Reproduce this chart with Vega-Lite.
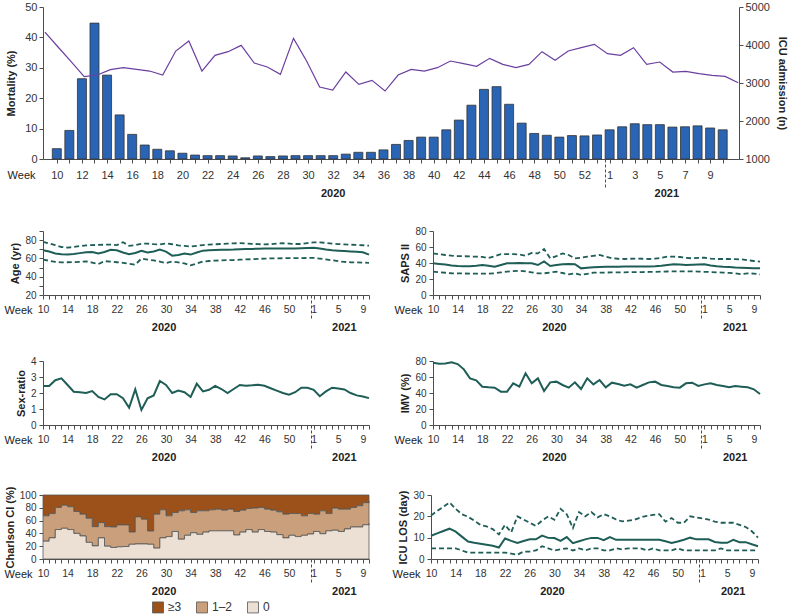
{
"$schema": "https://vega.github.io/schema/vega-lite/v6.json",
"padding": {"left": 4, "top": 1, "right": 2, "bottom": 2},
"background": "white",
"config": {
  "font": "Liberation Sans",
  "view": {"stroke": null},
  "axis": {"grid": false, "domainColor": "#4d4d4d", "tickColor": "#4d4d4d", "labelColor": "#333333", "titleColor": "#222222", "titleFontWeight": "bold", "titleFontSize": 11, "labelFontSize": 10.5, "tickSize": 4},
  "axisY": {"labelPadding": 3, "titlePadding": 4, "labelFontSize": 10},
  "line": {"color": "#1f5d57"}
},
"datasets": {"wk": [
{"i":0,"mort":3.4,"icu":4341,"age":69,"ageQ1":58.7,"ageQ3":78.2,"saps":39.6,"sapsQ1":29.2,"sapsQ3":52,"sex":2.44,"imv":77.9,"los":10.9,"losQ1":5,"losQ3":20.4,"c0":27.9,"c12":39.5,"c3":32.6},
{"i":1,"mort":9.4,"icu":3947,"age":67.5,"ageQ1":57.5,"ageQ3":76.5,"saps":38.8,"sapsQ1":28.5,"sapsQ3":51,"sex":2.44,"imv":76.7,"los":12,"losQ1":5,"losQ3":22.5,"c0":33,"c12":38,"c3":29},
{"i":2,"mort":26.4,"icu":3561,"age":65.5,"ageQ1":56.2,"ageQ3":74.5,"saps":38,"sapsQ1":27.8,"sapsQ3":50,"sex":2.8,"imv":77,"los":13.1,"losQ1":5,"losQ3":24.5,"c0":46,"c12":34.5,"c3":19.5},
{"i":3,"mort":44.7,"icu":3166,"age":64.5,"ageQ1":55.6,"ageQ3":72.5,"saps":37,"sapsQ1":27.2,"sapsQ3":49.2,"sex":2.92,"imv":78.3,"los":14.2,"losQ1":5,"losQ3":26.5,"c0":48,"c12":36,"c3":16},
{"i":4,"mort":27.6,"icu":3210,"age":64.2,"ageQ1":55.8,"ageQ3":71.8,"saps":36.3,"sapsQ1":27,"sapsQ3":48.7,"sex":2.5,"imv":76.2,"los":12.8,"losQ1":5,"losQ3":23.5,"c0":46,"c12":35.6,"c3":18.4},
{"i":5,"mort":14.5,"icu":3350,"age":64.8,"ageQ1":56,"ageQ3":72.5,"saps":36,"sapsQ1":26.9,"sapsQ3":48.5,"sex":2.08,"imv":69.6,"los":10.5,"losQ1":4,"losQ3":21,"c0":40,"c12":34.2,"c3":25.8},
{"i":6,"mort":8.1,"icu":3403,"age":65.8,"ageQ1":56.3,"ageQ3":73.5,"saps":35.8,"sapsQ1":26.8,"sapsQ3":48.2,"sex":2.05,"imv":58.3,"los":8.2,"losQ1":3,"losQ3":19.8,"c0":36,"c12":34,"c3":30},
{"i":7,"mort":4.6,"icu":3359,"age":66.8,"ageQ1":56.8,"ageQ3":74.3,"saps":36.5,"sapsQ1":26.8,"sapsQ3":47.9,"sex":2.0,"imv":55.8,"los":7.6,"losQ1":3,"losQ3":18,"c0":26,"c12":37.7,"c3":36.3},
{"i":8,"mort":3.2,"icu":3315,"age":67,"ageQ1":55.5,"ageQ3":74.6,"saps":37.5,"sapsQ1":26.8,"sapsQ3":47.6,"sex":2.12,"imv":47.9,"los":7.2,"losQ1":3,"losQ3":16,"c0":20.5,"c12":30,"c3":49.5},
{"i":9,"mort":2.7,"icu":3210,"age":65.3,"ageQ1":53.9,"ageQ3":74.8,"saps":36.5,"sapsQ1":26.8,"sapsQ3":46.2,"sex":1.75,"imv":47.1,"los":6.7,"losQ1":3,"losQ3":15.3,"c0":33,"c12":23.8,"c3":43.2},
{"i":10,"mort":1.9,"icu":3841,"age":67,"ageQ1":57,"ageQ3":75,"saps":35.4,"sapsQ1":27.2,"sapsQ3":48.5,"sex":1.6,"imv":46.7,"los":6.2,"losQ1":3,"losQ3":14,"c0":20,"c12":30.5,"c3":49.5},
{"i":11,"mort":1.3,"icu":4105,"age":69.5,"ageQ1":56.5,"ageQ3":75.2,"saps":37.5,"sapsQ1":28.2,"sapsQ3":51,"sex":1.92,"imv":41.7,"los":5.4,"losQ1":3,"losQ3":11.5,"c0":18,"c12":32,"c3":50},
{"i":12,"mort":1.1,"icu":3315,"age":69,"ageQ1":55.8,"ageQ3":74.5,"saps":39.6,"sapsQ1":29.2,"sapsQ3":51.2,"sex":1.92,"imv":41.7,"los":9.6,"losQ1":3,"losQ3":16,"c0":19,"c12":34.2,"c3":46.8},
{"i":13,"mort":1.1,"icu":3727,"age":66.5,"ageQ1":55.2,"ageQ3":77.8,"saps":39.8,"sapsQ1":29.8,"sapsQ3":51,"sex":1.67,"imv":52.1,"los":8.5,"losQ1":2.5,"losQ3":12.5,"c0":19.5,"c12":33.7,"c3":46.8},
{"i":14,"mort":1.0,"icu":3824,"age":64.6,"ageQ1":54.2,"ageQ3":73.8,"saps":40,"sapsQ1":30.2,"sapsQ3":50.5,"sex":1.08,"imv":47.9,"los":7.5,"losQ1":2,"losQ3":20,"c0":23,"c12":19.1,"c3":57.9},
{"i":15,"mort":0.4,"icu":3991,"age":66,"ageQ1":53.2,"ageQ3":74.5,"saps":39.8,"sapsQ1":29.6,"sapsQ3":49.2,"sex":2.23,"imv":64.6,"los":8.4,"losQ1":3.5,"losQ3":18.5,"c0":23.5,"c12":42.3,"c3":34.2},
{"i":16,"mort":1.0,"icu":3526,"age":68.3,"ageQ1":59.8,"ageQ3":76,"saps":39.6,"sapsQ1":28.3,"sapsQ3":52.5,"sex":0.94,"imv":52.1,"los":9.2,"losQ1":3.5,"losQ3":17,"c0":23.5,"c12":38.6,"c3":37.9},
{"i":17,"mort":0.8,"icu":3421,"age":66.5,"ageQ1":58.8,"ageQ3":76.2,"saps":37.5,"sapsQ1":27.1,"sapsQ3":52,"sex":1.67,"imv":58.3,"los":9.2,"losQ1":4,"losQ3":15.5,"c0":23,"c12":20.7,"c3":56.3},
{"i":18,"mort":1.0,"icu":3228,"age":67.5,"ageQ1":57.8,"ageQ3":75.6,"saps":42,"sapsQ1":27.1,"sapsQ3":57.5,"sex":1.85,"imv":42.5,"los":11,"losQ1":6,"losQ3":18,"c0":17,"c12":53,"c3":30},
{"i":19,"mort":1.1,"icu":4175,"age":69.7,"ageQ1":56.5,"ageQ3":75.3,"saps":36.3,"sapsQ1":28.2,"sapsQ3":45.8,"sex":2.75,"imv":53.3,"los":9.9,"losQ1":5,"losQ3":20,"c0":33,"c12":43.8,"c3":23.2},
{"i":20,"mort":1.1,"icu":3578,"age":67.5,"ageQ1":55,"ageQ3":76.4,"saps":37.5,"sapsQ1":29.2,"sapsQ3":48.5,"sex":2.5,"imv":54.2,"los":9.8,"losQ1":4,"losQ3":18.4,"c0":35,"c12":32.4,"c3":32.6},
{"i":21,"mort":1.1,"icu":2894,"age":63,"ageQ1":56.6,"ageQ3":75.5,"saps":38.5,"sapsQ1":27.5,"sapsQ3":52,"sex":2.0,"imv":50,"los":8.5,"losQ1":4.5,"losQ3":23.5,"c0":43,"c12":29.6,"c3":27.4},
{"i":22,"mort":1.1,"icu":2815,"age":63.8,"ageQ1":55.6,"ageQ3":74.2,"saps":38.8,"sapsQ1":25.8,"sapsQ3":50,"sex":2.15,"imv":46.7,"los":10.3,"losQ1":5,"losQ3":21,"c0":31,"c12":44.3,"c3":24.7},
{"i":23,"mort":1.6,"icu":3289,"age":65.3,"ageQ1":54.6,"ageQ3":73.8,"saps":38.5,"sapsQ1":27.1,"sapsQ3":45.8,"sex":2.05,"imv":53.3,"los":7.4,"losQ1":4,"losQ3":14.5,"c0":37,"c12":39.8,"c3":23.2},
{"i":24,"mort":2.2,"icu":2964,"age":64.2,"ageQ1":52.4,"ageQ3":73,"saps":33.3,"sapsQ1":25,"sapsQ3":46.5,"sex":1.75,"imv":45,"los":8.3,"losQ1":5,"losQ3":22,"c0":41,"c12":31.6,"c3":27.4},
{"i":25,"mort":2.2,"icu":3070,"age":66.5,"ageQ1":54.5,"ageQ3":73.8,"saps":34.2,"sapsQ1":26.5,"sapsQ3":47.9,"sex":2.58,"imv":58.3,"los":9.2,"losQ1":4,"losQ3":20,"c0":38.5,"c12":36.8,"c3":24.7},
{"i":26,"mort":3.0,"icu":2789,"age":68.5,"ageQ1":56.6,"ageQ3":74.6,"saps":34.6,"sapsQ1":27.9,"sapsQ3":49,"sex":2.1,"imv":50.8,"los":9.9,"losQ1":5,"losQ3":22,"c0":42,"c12":33.3,"c3":24.7},
{"i":27,"mort":4.8,"icu":3210,"age":69,"ageQ1":57.2,"ageQ3":75.2,"saps":35,"sapsQ1":28,"sapsQ3":50,"sex":2.2,"imv":56.2,"los":9.9,"losQ1":5,"losQ3":19.5,"c0":44,"c12":32.8,"c3":23.2},
{"i":28,"mort":6.1,"icu":3359,"age":69.2,"ageQ1":57.6,"ageQ3":75.5,"saps":35.2,"sapsQ1":28.1,"sapsQ3":48,"sex":2.45,"imv":47.1,"los":8.8,"losQ1":4,"losQ3":21,"c0":44,"c12":33.9,"c3":22.1},
{"i":29,"mort":7.2,"icu":3315,"age":69.4,"ageQ1":57.9,"ageQ3":75.8,"saps":35.4,"sapsQ1":28.2,"sapsQ3":46,"sex":2.25,"imv":52.9,"los":10.3,"losQ1":4,"losQ3":20,"c0":44,"c12":32.3,"c3":23.7},
{"i":30,"mort":7.2,"icu":3403,"age":69.6,"ageQ1":58.2,"ageQ3":76.2,"saps":35.4,"sapsQ1":28.3,"sapsQ3":45.3,"sex":2.0,"imv":51.2,"los":9,"losQ1":5,"losQ3":18.5,"c0":44,"c12":33.9,"c3":22.1},
{"i":31,"mort":9.6,"icu":3578,"age":69.7,"ageQ1":58.3,"ageQ3":76.5,"saps":35.5,"sapsQ1":28.4,"sapsQ3":45,"sex":2.25,"imv":49.2,"los":9,"losQ1":4.5,"losQ3":17.6,"c0":37.5,"c12":36.7,"c3":25.8},
{"i":32,"mort":12.8,"icu":3508,"age":70,"ageQ1":58.6,"ageQ3":76.7,"saps":35.6,"sapsQ1":28.5,"sapsQ3":45.3,"sex":2.5,"imv":50.8,"los":9,"losQ1":5,"losQ3":18,"c0":42,"c12":34.3,"c3":23.7},
{"i":33,"mort":17.7,"icu":3438,"age":70.2,"ageQ1":58.9,"ageQ3":76.4,"saps":35.6,"sapsQ1":28.6,"sapsQ3":45.6,"sex":2.45,"imv":46.7,"los":9,"losQ1":5,"losQ3":18.4,"c0":46,"c12":32.9,"c3":21.1},
{"i":34,"mort":22.9,"icu":3649,"age":70.4,"ageQ1":59.2,"ageQ3":76,"saps":35.7,"sapsQ1":28.7,"sapsQ3":45.3,"sex":2.48,"imv":50,"los":9,"losQ1":5,"losQ3":19.5,"c0":42,"c12":37.5,"c3":20.5},
{"i":35,"mort":23.8,"icu":3491,"age":70.6,"ageQ1":59.5,"ageQ3":75.6,"saps":35.7,"sapsQ1":28.8,"sapsQ3":45,"sex":2.52,"imv":53.3,"los":9,"losQ1":4,"losQ3":20.2,"c0":46,"c12":34.5,"c3":19.5},
{"i":36,"mort":18.0,"icu":3403,"age":70.8,"ageQ1":59.8,"ageQ3":75.3,"saps":35.8,"sapsQ1":29,"sapsQ3":45.4,"sex":2.45,"imv":54.2,"los":9,"losQ1":5,"losQ3":20.7,"c0":43,"c12":34.9,"c3":22.1},
{"i":37,"mort":11.8,"icu":3491,"age":70.8,"ageQ1":60,"ageQ3":75.6,"saps":36.5,"sapsQ1":29.2,"sapsQ3":46.5,"sex":2.3,"imv":50,"los":9,"losQ1":4,"losQ3":21,"c0":42,"c12":34.3,"c3":23.7},
{"i":38,"mort":8.4,"icu":3824,"age":70.8,"ageQ1":60.1,"ageQ3":76.2,"saps":37.5,"sapsQ1":29.4,"sapsQ3":47.9,"sex":2.15,"imv":48.75,"los":8.3,"losQ1":4,"losQ3":17.5,"c0":38,"c12":35.7,"c3":26.3},
{"i":39,"mort":7.8,"icu":3596,"age":70.8,"ageQ1":60.2,"ageQ3":76.6,"saps":38.3,"sapsQ1":29.5,"sapsQ3":47.9,"sex":2.0,"imv":47.1,"los":7.5,"losQ1":4,"losQ3":19.2,"c0":33,"c12":37,"c3":30},
{"i":40,"mort":7.2,"icu":3841,"age":70.8,"ageQ1":60.3,"ageQ3":76.3,"saps":38,"sapsQ1":29.6,"sapsQ3":47.5,"sex":1.9,"imv":46.7,"los":8.2,"losQ1":5,"losQ3":17,"c0":37,"c12":34,"c3":29},
{"i":41,"mort":7.7,"icu":3929,"age":70.8,"ageQ1":60.4,"ageQ3":75.8,"saps":37.5,"sapsQ1":29.6,"sapsQ3":46.5,"sex":2.05,"imv":52.1,"los":9,"losQ1":4,"losQ3":17,"c0":35,"c12":36,"c3":29},
{"i":42,"mort":7.6,"icu":4017,"age":71,"ageQ1":60.4,"ageQ3":75.8,"saps":37.8,"sapsQ1":29.6,"sapsQ3":45.8,"sex":2.33,"imv":52.9,"los":10,"losQ1":4,"losQ3":20,"c0":37,"c12":30.4,"c3":32.6},
{"i":43,"mort":7.9,"icu":3771,"age":71.3,"ageQ1":60.5,"ageQ3":76.8,"saps":38.2,"sapsQ1":29.3,"sapsQ3":46.5,"sex":2.33,"imv":48.75,"los":9.2,"losQ1":4,"losQ3":19.5,"c0":39,"c12":32,"c3":29},
{"i":44,"mort":9.6,"icu":3727,"age":71.6,"ageQ1":60.5,"ageQ3":77.6,"saps":38.3,"sapsQ1":29,"sapsQ3":46.6,"sex":2.2,"imv":50.8,"los":9.2,"losQ1":4,"losQ3":19,"c0":43,"c12":27,"c3":30},
{"i":45,"mort":10.6,"icu":3929,"age":70.8,"ageQ1":59.8,"ageQ3":77.6,"saps":37,"sapsQ1":28.7,"sapsQ3":45.5,"sex":1.8,"imv":52.1,"los":9.2,"losQ1":4,"losQ3":18.5,"c0":39.5,"c12":35.8,"c3":24.7},
{"i":46,"mort":11.6,"icu":3491,"age":69.8,"ageQ1":58.9,"ageQ3":77,"saps":36,"sapsQ1":28.3,"sapsQ3":45,"sex":2.1,"imv":50,"los":8,"losQ1":4,"losQ3":17.5,"c0":44,"c12":27,"c3":29},
{"i":47,"mort":11.3,"icu":3552,"age":69,"ageQ1":58,"ageQ3":76.2,"saps":35.4,"sapsQ1":28,"sapsQ3":45,"sex":2.33,"imv":48.75,"los":7.6,"losQ1":5,"losQ3":17,"c0":45,"c12":34.5,"c3":20.5},
{"i":48,"mort":11.3,"icu":3289,"age":68.5,"ageQ1":57,"ageQ3":75.7,"saps":35,"sapsQ1":27.6,"sapsQ3":45,"sex":2.28,"imv":47.1,"los":7.6,"losQ1":4,"losQ3":17,"c0":43,"c12":34.9,"c3":22.1},
{"i":49,"mort":10.5,"icu":3307,"age":68,"ageQ1":56.2,"ageQ3":75.4,"saps":34.5,"sapsQ1":27.1,"sapsQ3":44.8,"sex":2.22,"imv":48.75,"los":9,"losQ1":4,"losQ3":17,"c0":47,"c12":30.9,"c3":22.1},
{"i":50,"mort":10.6,"icu":3245,"age":67.6,"ageQ1":55.8,"ageQ3":75,"saps":34.2,"sapsQ1":26,"sapsQ3":44.5,"sex":2.0,"imv":47.9,"los":7.9,"losQ1":4,"losQ3":16,"c0":50,"c12":30.5,"c3":19.5},
{"i":51,"mort":10.9,"icu":3201,"age":67.2,"ageQ1":55.6,"ageQ3":74.8,"saps":33.8,"sapsQ1":27,"sapsQ3":43.5,"sex":1.85,"imv":47.1,"los":7.9,"losQ1":4,"losQ3":15,"c0":50,"c12":33.2,"c3":16.8},
{"i":52,"mort":10.2,"icu":3175,"age":66.8,"ageQ1":55.4,"ageQ3":74.4,"saps":33.4,"sapsQ1":26.8,"sapsQ3":42.5,"sex":1.78,"imv":44.6,"los":6.9,"losQ1":4,"losQ3":13,"c0":53.5,"c12":34.5,"c3":12},
{"i":53,"mort":9.6,"icu":3008,"age":64.2,"ageQ1":55.2,"ageQ3":74,"saps":33.3,"sapsQ1":25.8,"sapsQ3":41.7,"sex":1.68,"imv":38.75,"los":6,"losQ1":4,"losQ3":10,"c0":55.5,"c12":34.5,"c3":10}
]},
"data": {"name": "wk"},
"spacing": 20,
"vconcat": [
{
  "width": 696, "height": 152,
  "layer": [
    {"mark": {"type": "bar", "width": 9, "color": "#2a64b4", "stroke": "#333333", "strokeWidth": 0.8},
     "encoding": {
       "x": {"field": "i", "type": "quantitative", "scale": {"domain": [-0.7, 53.9], "nice": false, "zero": false},
             "axis": {"orient": "bottom", "title": "Week", "titleFontWeight": "normal", "titleFontSize": 11, "titleAngle": 0, "titleAlign": "right", "titleBaseline": "middle", "titleX": -8, "titleY": 16,
                      "values": [0,1,2,3,4,5,6,7,8,9,10,11,12,13,14,15,16,17,18,19,20,21,22,23,24,25,26,27,28,29,30,31,32,33,34,35,36,37,38,39,40,41,42,43,44,45,46,47,48,49,50,51,52,53,43.6],
                      "labelExpr": "datum.value % 2 == 0 ? '' + (datum.value <= 43 ? datum.value + 10 : datum.value - 43) : ''",
                      "labelFlush": false, "labelOverlap": false, "labelFontSize": 11, "labelPadding": 6,
                      "tickSize": {"condition": {"test": "datum.value == 43.6", "value": 30}, "value": 4},
                      "tickDash": {"condition": {"test": "datum.value == 43.6", "value": [3, 2]}, "value": []}}},
       "y": {"field": "mort", "type": "quantitative", "scale": {"domain": [0, 50], "nice": false},
             "axis": {"title": "Mortality (%)", "values": [0, 10, 20, 30, 40, 50], "labelFontSize": 11, "labelPadding": 2, "titlePadding": 8}}
     }},
    {"mark": {"type": "line", "color": "#6b3fa0", "strokeWidth": 1.2},
     "encoding": {
       "x": {"field": "i", "type": "quantitative", "scale": {"domain": [-0.15, 53.06], "nice": false, "zero": false},
             "axis": {"orient": "bottom", "title": null, "values": [22.0, 47.5], "labelExpr": "datum.value < 35 ? '2020' : '2021'", "domain": false, "ticks": false, "labelFontWeight": "bold", "labelFontSize": 11, "labelPadding": 28, "labelFlush": false, "labelOverlap": false, "labelColor": "#222222"}},
       "y": {"field": "icu", "type": "quantitative", "scale": {"domain": [1000, 5000], "nice": false, "zero": false},
             "axis": {"orient": "right", "title": "ICU admission (n)", "format": "d", "values": [1000, 2000, 3000, 4000, 5000], "labelFontSize": 11, "labelPadding": 2, "titlePadding": 7}}
     }}
  ],
  "resolve": {"scale": {"x": "independent", "y": "independent"}}
},
{
  "spacing": 21,
  "hconcat": [
    {
      "width": 326, "height": 64,
      "layer": [
        {"mark": {"type": "line", "strokeWidth": 1.8, "strokeDash": [5, 3]},
         "encoding": {
           "x": {"field": "i", "type": "quantitative", "scale": {"domain": [0, 53], "nice": false, "zero": false},
                 "axis": {"orient": "bottom", "title": null, "values": [19.6, 48.9], "labelExpr": "datum.value < 35 ? '2020' : '2021'", "domain": false, "ticks": false, "labelFontWeight": "bold", "labelFontSize": 11, "labelPadding": 26, "labelFlush": false, "labelOverlap": false, "labelColor": "#222222"}},
           "y": {"field": "ageQ1", "type": "quantitative", "scale": {"domain": [20, 90], "nice": false, "zero": false},
                 "axis": {"title": "Age (yr)", "values": [20, 30, 40, 50, 60, 70, 80, 90]}}}},
        {"mark": {"type": "line", "strokeWidth": 1.8, "strokeDash": [5, 3]},
         "encoding": {
           "x": {"field": "i", "type": "quantitative", "scale": {"domain": [0, 53], "nice": false, "zero": false}, "axis": null},
           "y": {"field": "ageQ3", "type": "quantitative", "scale": {"domain": [20, 90], "nice": false, "zero": false},
                 "axis": {"title": "Age (yr)", "values": [20, 30, 40, 50, 60, 70, 80, 90]}}}},
        {"mark": {"type": "line", "strokeWidth": 2},
         "encoding": {
           "x": {"field": "i", "type": "quantitative", "scale": {"domain": [0, 53], "nice": false, "zero": false},
                 "axis": {"orient": "bottom", "title": "Week", "titleFontWeight": "normal", "titleFontSize": 11, "titleAngle": 0, "titleAlign": "right", "titleBaseline": "middle", "titleX": -11, "titleY": 15,
                          "values": [0,1,2,3,4,5,6,7,8,9,10,11,12,13,14,15,16,17,18,19,20,21,22,23,24,25,26,27,28,29,30,31,32,33,34,35,36,37,38,39,40,41,42,43,44,45,46,47,48,49,50,51,52,53,43.5],
                          "labelExpr": "datum.value % 4 == 0 ? '' + (datum.value <= 43 ? datum.value + 10 : datum.value - 43) : ''",
                          "labelFlush": false, "labelOverlap": false, "labelFontSize": 10.5, "labelPadding": 5,
                          "tickSize": {"condition": {"test": "datum.value == 43.5", "value": 25}, "value": 4},
                          "tickDash": {"condition": {"test": "datum.value == 43.5", "value": [3, 2]}, "value": []}}},
           "y": {"field": "age", "type": "quantitative", "scale": {"domain": [20, 90], "nice": false, "zero": false},
                 "axis": {"title": "Age (yr)", "values": [20, 30, 40, 50, 60, 70, 80, 90]}}}}
      ],
      "resolve": {"axis": {"x": "independent"}}
    },
    {
      "width": 327, "height": 64,
      "layer": [
        {"mark": {"type": "line", "strokeWidth": 1.8, "strokeDash": [5, 3]},
         "encoding": {
           "x": {"field": "i", "type": "quantitative", "scale": {"domain": [0, 53], "nice": false, "zero": false},
                 "axis": {"orient": "bottom", "title": null, "values": [19.6, 48.9], "labelExpr": "datum.value < 35 ? '2020' : '2021'", "domain": false, "ticks": false, "labelFontWeight": "bold", "labelFontSize": 11, "labelPadding": 26, "labelFlush": false, "labelOverlap": false, "labelColor": "#222222"}},
           "y": {"field": "sapsQ1", "type": "quantitative", "scale": {"domain": [0, 80], "nice": false},
                 "axis": {"title": "SAPS II", "values": [0, 20, 40, 60, 80]}}}},
        {"mark": {"type": "line", "strokeWidth": 1.8, "strokeDash": [5, 3]},
         "encoding": {
           "x": {"field": "i", "type": "quantitative", "scale": {"domain": [0, 53], "nice": false, "zero": false}, "axis": null},
           "y": {"field": "sapsQ3", "type": "quantitative", "scale": {"domain": [0, 80], "nice": false},
                 "axis": {"title": "SAPS II", "values": [0, 20, 40, 60, 80]}}}},
        {"mark": {"type": "line", "strokeWidth": 2},
         "encoding": {
           "x": {"field": "i", "type": "quantitative", "scale": {"domain": [0, 53], "nice": false, "zero": false},
                 "axis": {"orient": "bottom", "title": "Week", "titleFontWeight": "normal", "titleFontSize": 11, "titleAngle": 0, "titleAlign": "right", "titleBaseline": "middle", "titleX": -11, "titleY": 15,
                          "values": [0,1,2,3,4,5,6,7,8,9,10,11,12,13,14,15,16,17,18,19,20,21,22,23,24,25,26,27,28,29,30,31,32,33,34,35,36,37,38,39,40,41,42,43,44,45,46,47,48,49,50,51,52,53,43.5],
                          "labelExpr": "datum.value % 4 == 0 ? '' + (datum.value <= 43 ? datum.value + 10 : datum.value - 43) : ''",
                          "labelFlush": false, "labelOverlap": false, "labelFontSize": 10.5, "labelPadding": 5,
                          "tickSize": {"condition": {"test": "datum.value == 43.5", "value": 25}, "value": 4},
                          "tickDash": {"condition": {"test": "datum.value == 43.5", "value": [3, 2]}, "value": []}}},
           "y": {"field": "saps", "type": "quantitative", "scale": {"domain": [0, 80], "nice": false},
                 "axis": {"title": "SAPS II", "values": [0, 20, 40, 60, 80]}}}}
      ],
      "resolve": {"axis": {"x": "independent"}}
    }
  ]
},
{
  "spacing": 21,
  "hconcat": [
    {
      "width": 326, "height": 64,
      "layer": [
        {"mark": {"type": "line", "opacity": 0},
         "encoding": {
           "x": {"field": "i", "type": "quantitative", "scale": {"domain": [0, 53], "nice": false, "zero": false},
                 "axis": {"orient": "bottom", "title": null, "values": [19.6, 48.9], "labelExpr": "datum.value < 35 ? '2020' : '2021'", "domain": false, "ticks": false, "labelFontWeight": "bold", "labelFontSize": 11, "labelPadding": 26, "labelFlush": false, "labelOverlap": false, "labelColor": "#222222"}},
           "y": {"field": "sex", "type": "quantitative", "scale": {"domain": [0, 4], "nice": false},
                 "axis": {"title": "Sex-ratio", "values": [0, 1, 2, 3, 4]}}}},
        {"mark": {"type": "line", "strokeWidth": 2},
         "encoding": {
           "x": {"field": "i", "type": "quantitative", "scale": {"domain": [0, 53], "nice": false, "zero": false},
                 "axis": {"orient": "bottom", "title": "Week", "titleFontWeight": "normal", "titleFontSize": 11, "titleAngle": 0, "titleAlign": "right", "titleBaseline": "middle", "titleX": -11, "titleY": 15,
                          "values": [0,1,2,3,4,5,6,7,8,9,10,11,12,13,14,15,16,17,18,19,20,21,22,23,24,25,26,27,28,29,30,31,32,33,34,35,36,37,38,39,40,41,42,43,44,45,46,47,48,49,50,51,52,53,43.5],
                          "labelExpr": "datum.value % 4 == 0 ? '' + (datum.value <= 43 ? datum.value + 10 : datum.value - 43) : ''",
                          "labelFlush": false, "labelOverlap": false, "labelFontSize": 10.5, "labelPadding": 5,
                          "tickSize": {"condition": {"test": "datum.value == 43.5", "value": 25}, "value": 4},
                          "tickDash": {"condition": {"test": "datum.value == 43.5", "value": [3, 2]}, "value": []}}},
           "y": {"field": "sex", "type": "quantitative", "scale": {"domain": [0, 4], "nice": false},
                 "axis": {"title": "Sex-ratio", "values": [0, 1, 2, 3, 4]}}}}
      ],
      "resolve": {"axis": {"x": "independent"}}
    },
    {
      "width": 327, "height": 64,
      "layer": [
        {"mark": {"type": "line", "opacity": 0},
         "encoding": {
           "x": {"field": "i", "type": "quantitative", "scale": {"domain": [0, 53], "nice": false, "zero": false},
                 "axis": {"orient": "bottom", "title": null, "values": [19.6, 48.9], "labelExpr": "datum.value < 35 ? '2020' : '2021'", "domain": false, "ticks": false, "labelFontWeight": "bold", "labelFontSize": 11, "labelPadding": 26, "labelFlush": false, "labelOverlap": false, "labelColor": "#222222"}},
           "y": {"field": "imv", "type": "quantitative", "scale": {"domain": [0, 80], "nice": false},
                 "axis": {"title": "IMV (%)", "values": [0, 20, 40, 60, 80]}}}},
        {"mark": {"type": "line", "strokeWidth": 2},
         "encoding": {
           "x": {"field": "i", "type": "quantitative", "scale": {"domain": [0, 53], "nice": false, "zero": false},
                 "axis": {"orient": "bottom", "title": "Week", "titleFontWeight": "normal", "titleFontSize": 11, "titleAngle": 0, "titleAlign": "right", "titleBaseline": "middle", "titleX": -11, "titleY": 15,
                          "values": [0,1,2,3,4,5,6,7,8,9,10,11,12,13,14,15,16,17,18,19,20,21,22,23,24,25,26,27,28,29,30,31,32,33,34,35,36,37,38,39,40,41,42,43,44,45,46,47,48,49,50,51,52,53,43.5],
                          "labelExpr": "datum.value % 4 == 0 ? '' + (datum.value <= 43 ? datum.value + 10 : datum.value - 43) : ''",
                          "labelFlush": false, "labelOverlap": false, "labelFontSize": 10.5, "labelPadding": 5,
                          "tickSize": {"condition": {"test": "datum.value == 43.5", "value": 25}, "value": 4},
                          "tickDash": {"condition": {"test": "datum.value == 43.5", "value": [3, 2]}, "value": []}}},
           "y": {"field": "imv", "type": "quantitative", "scale": {"domain": [0, 80], "nice": false},
                 "axis": {"title": "IMV (%)", "values": [0, 20, 40, 60, 80]}}}}
      ],
      "resolve": {"axis": {"x": "independent"}}
    }
  ]
},
{
  "spacing": 21,
  "hconcat": [
    {
      "width": 326, "height": 64,
      "layer": [
        {"transform": [{"fold": ["c3", "c12", "c0"], "as": ["cat", "pct"]}],
         "mark": {"type": "area", "interpolate": "step-after", "stroke": "#555555", "strokeWidth": 0.8},
         "encoding": {
           "x": {"field": "i", "type": "quantitative", "scale": {"domain": [0, 53], "nice": false, "zero": false},
                 "axis": {"orient": "bottom", "title": "Week", "titleFontWeight": "normal", "titleFontSize": 11, "titleAngle": 0, "titleAlign": "right", "titleBaseline": "middle", "titleX": -11, "titleY": 15,
                          "values": [0,1,2,3,4,5,6,7,8,9,10,11,12,13,14,15,16,17,18,19,20,21,22,23,24,25,26,27,28,29,30,31,32,33,34,35,36,37,38,39,40,41,42,43,44,45,46,47,48,49,50,51,52,53,43.5],
                          "labelExpr": "datum.value % 4 == 0 ? '' + (datum.value <= 43 ? datum.value + 10 : datum.value - 43) : ''",
                          "labelFlush": false, "labelOverlap": false, "labelFontSize": 10.5, "labelPadding": 5,
                          "tickSize": {"condition": {"test": "datum.value == 43.5", "value": 25}, "value": 4},
                          "tickDash": {"condition": {"test": "datum.value == 43.5", "value": [3, 2]}, "value": []}}},
           "y": {"field": "pct", "type": "quantitative", "stack": "zero", "scale": {"domain": [0, 100], "nice": false},
                 "axis": {"title": "Charlson CI (%)", "values": [0, 20, 40, 60, 80, 100]}},
           "color": {"field": "cat", "type": "nominal",
                     "scale": {"domain": ["c3", "c12", "c0"], "range": ["#9b5119", "#c9a07b", "#ecdfd3"]},
                     "legend": {"orient": "none", "legendX": 109, "legendY": 594, "direction": "horizontal", "title": null, "symbolType": "square", "symbolSize": 121, "symbolStrokeColor": "#555555", "symbolStrokeWidth": 0.8, "symbolOpacity": 1, "labelFontSize": 12, "labelColor": "#333333", "labelOffset": 4, "columnPadding": 12,
                                "labelExpr": "datum.label == 'c3' ? '≥3' : datum.label == 'c12' ? '1–2' : '0'"}},
           "order": {"field": "cat", "sort": "ascending"}}},
        {"mark": {"type": "line", "opacity": 0},
         "encoding": {
           "x": {"field": "i", "type": "quantitative", "scale": {"domain": [0, 53], "nice": false, "zero": false},
                 "axis": {"orient": "bottom", "title": null, "values": [19.6, 48.9], "labelExpr": "datum.value < 35 ? '2020' : '2021'", "domain": false, "ticks": false, "labelFontWeight": "bold", "labelFontSize": 11, "labelPadding": 26, "labelFlush": false, "labelOverlap": false, "labelColor": "#222222"}},
           "y": {"field": "c0", "type": "quantitative", "scale": {"domain": [0, 100], "nice": false},
                 "axis": {"title": "Charlson CI (%)", "values": [0, 20, 40, 60, 80, 100]}}}}
      ],
      "resolve": {"axis": {"x": "independent"}}
    },
    {
      "width": 327, "height": 64,
      "layer": [
        {"mark": {"type": "line", "strokeWidth": 1.8, "strokeDash": [5, 3]},
         "encoding": {
           "x": {"field": "i", "type": "quantitative", "scale": {"domain": [0, 53], "nice": false, "zero": false},
                 "axis": {"orient": "bottom", "title": null, "values": [19.6, 48.9], "labelExpr": "datum.value < 35 ? '2020' : '2021'", "domain": false, "ticks": false, "labelFontWeight": "bold", "labelFontSize": 11, "labelPadding": 26, "labelFlush": false, "labelOverlap": false, "labelColor": "#222222"}},
           "y": {"field": "losQ1", "type": "quantitative", "scale": {"domain": [0, 30], "nice": false},
                 "axis": {"title": "ICU LOS (day)", "values": [0, 10, 20, 30]}}}},
        {"mark": {"type": "line", "strokeWidth": 1.8, "strokeDash": [5, 3]},
         "encoding": {
           "x": {"field": "i", "type": "quantitative", "scale": {"domain": [0, 53], "nice": false, "zero": false}, "axis": null},
           "y": {"field": "losQ3", "type": "quantitative", "scale": {"domain": [0, 30], "nice": false},
                 "axis": {"title": "ICU LOS (day)", "values": [0, 10, 20, 30]}}}},
        {"mark": {"type": "line", "strokeWidth": 2},
         "encoding": {
           "x": {"field": "i", "type": "quantitative", "scale": {"domain": [0, 53], "nice": false, "zero": false},
                 "axis": {"orient": "bottom", "title": "Week", "titleFontWeight": "normal", "titleFontSize": 11, "titleAngle": 0, "titleAlign": "right", "titleBaseline": "middle", "titleX": -11, "titleY": 15,
                          "values": [0,1,2,3,4,5,6,7,8,9,10,11,12,13,14,15,16,17,18,19,20,21,22,23,24,25,26,27,28,29,30,31,32,33,34,35,36,37,38,39,40,41,42,43,44,45,46,47,48,49,50,51,52,53,43.5],
                          "labelExpr": "datum.value % 4 == 0 ? '' + (datum.value <= 43 ? datum.value + 10 : datum.value - 43) : ''",
                          "labelFlush": false, "labelOverlap": false, "labelFontSize": 10.5, "labelPadding": 5,
                          "tickSize": {"condition": {"test": "datum.value == 43.5", "value": 25}, "value": 4},
                          "tickDash": {"condition": {"test": "datum.value == 43.5", "value": [3, 2]}, "value": []}}},
           "y": {"field": "los", "type": "quantitative", "scale": {"domain": [0, 30], "nice": false},
                 "axis": {"title": "ICU LOS (day)", "values": [0, 10, 20, 30]}}}}
      ],
      "resolve": {"axis": {"x": "independent"}}
    }
  ]
}
]
}
